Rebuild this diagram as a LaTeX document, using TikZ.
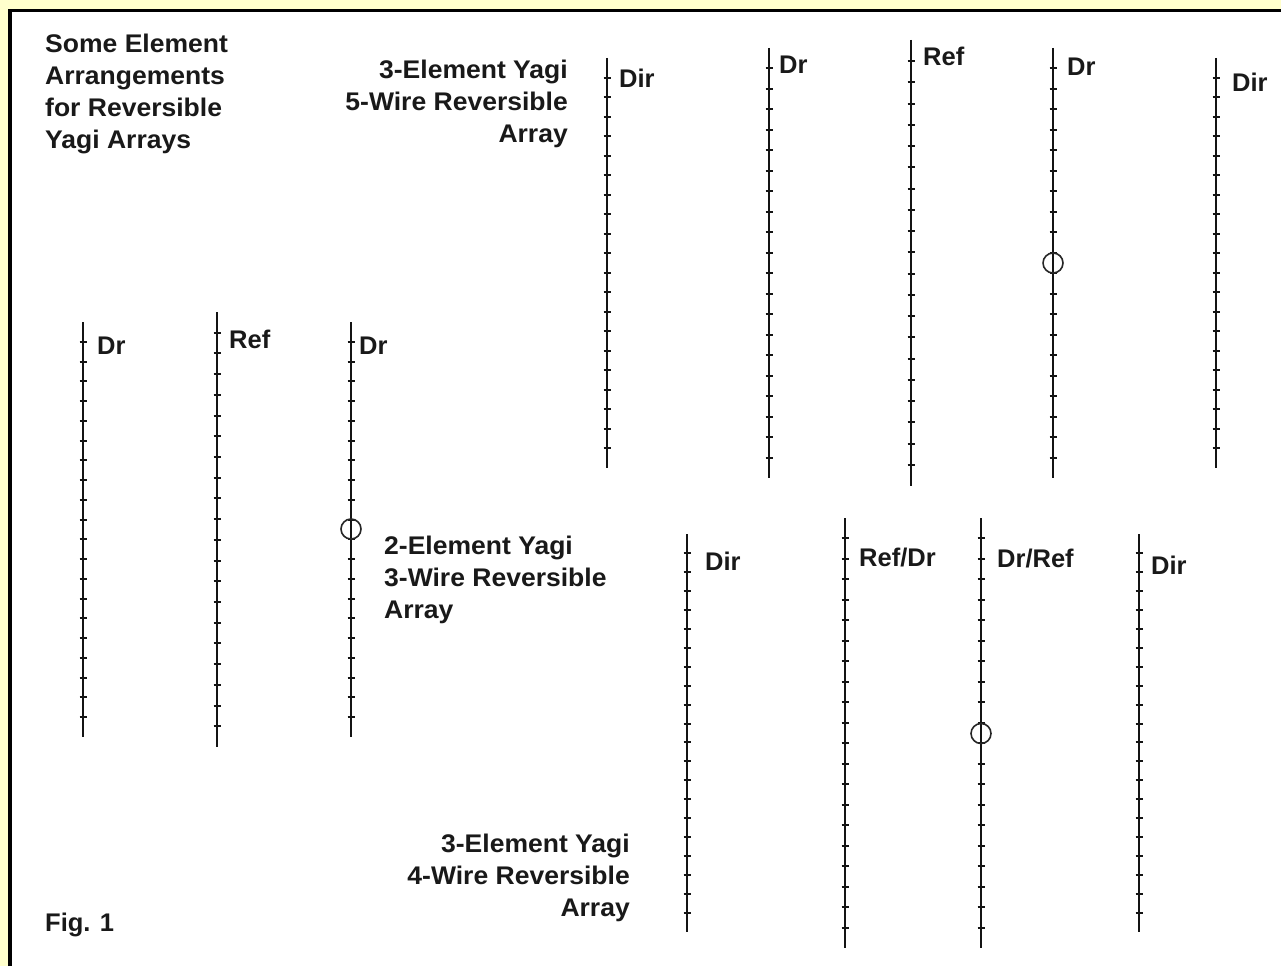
\documentclass[tikz,border=0pt]{standalone}
\usepackage{fontspec}
\setmainfont{Liberation Sans}
\newfontfamily\blockfont[FakeStretch=1.04]{Liberation Sans}
\definecolor{paper}{HTML}{FFFFCC}
\tikzset{
  wireline/.style={line width=2pt,black!92},
  tickline/.style={line width=2pt,black!92},
  feedpoint/.style={circle,draw=black!85,line width=1.6pt,minimum size=20pt,inner sep=0pt},
  lbl/.style={font=\fontsize{25.5}{32}\selectfont\bfseries,text=black!90,inner sep=0pt,anchor=base west},
  blockleft/.style={font=\blockfont\fontsize{25.5}{32}\selectfont\bfseries,text=black!90,inner sep=0pt,align=left,anchor=north west},
  blockright/.style={font=\blockfont\fontsize{25.5}{32}\selectfont\bfseries,text=black!90,inner sep=0pt,align=right,anchor=north east},
}
% x, top, bottom: every wire has 21 segments
\newcommand{\yagiwire}[3]{%
  \draw[wireline] (#1,#2) -- (#1,#3);
  \foreach \k in {1,...,20}{
    \pgfmathsetmacro{\ty}{round(#2+\k*(#3-#2)/21)}
    \draw[tickline] (#1-3.5,\ty) -- (#1+3.5,\ty);
  }%
}
\begin{document}
\begin{tikzpicture}[x=1pt,y=-1pt]
\useasboundingbox (0,0) rectangle (1281,966);
\fill[paper] (0,0) rectangle (1281,966);
\fill[white] (10,11) rectangle (1281,966);
\draw[line width=3.5pt,black] (10,966) -- (10,10.5) -- (1281,10.5);

% 3-element, 5 wires
\yagiwire{607}{58}{468}
\yagiwire{769}{48}{478}
\yagiwire{911}{40}{486}
\yagiwire{1053}{48}{478}
\yagiwire{1216}{58}{468}
% 2-element, 3 wires
\yagiwire{83}{322}{737}
\yagiwire{217}{312}{747}
\yagiwire{351}{322}{737}
% 3-element, 4 wires
\yagiwire{687}{534}{932}
\yagiwire{845}{518}{948}
\yagiwire{981}{518}{948}
\yagiwire{1139}{534}{932}

\node[feedpoint] (f1) at (1053,263) {};
\node[feedpoint] (f2) at (351,529) {};
\node[feedpoint] (f3) at (981,733.5) {};

\node[blockleft] (title) at (45,34) {Some Element\\Arrangements\\for Reversible\\Yagi Arrays};
\node[blockright] (five) at (568,60) {3-Element Yagi\\5-Wire Reversible\\Array};
\node[blockleft] (three) at (384,536) {2-Element Yagi\\3-Wire Reversible\\Array};
\node[blockright] (four) at (630,834) {3-Element Yagi\\4-Wire Reversible\\Array};
\node[lbl] (fig) at (45,931) {Fig. 1};

\node[lbl] (a1) at (619,87) {Dir};
\node[lbl] (a2) at (779,74) {Dr};
\node[lbl] (a3) at (923,66) {Ref};
\node[lbl] (a4) at (1067,75) {Dr};
\node[lbl] (a5) at (1232,91) {Dir};
\node[lbl] (b1) at (97,354) {Dr};
\node[lbl] (b2) at (229,348) {Ref};
\node[lbl] (b3) at (359,354) {Dr};
\node[lbl] (c1) at (705,570) {Dir};
\node[lbl] (c2) at (859,566) {Ref/Dr};
\node[lbl] (c3) at (997,567) {Dr/Ref};
\node[lbl] (c4) at (1151,574) {Dir};
\end{tikzpicture}
\end{document}
